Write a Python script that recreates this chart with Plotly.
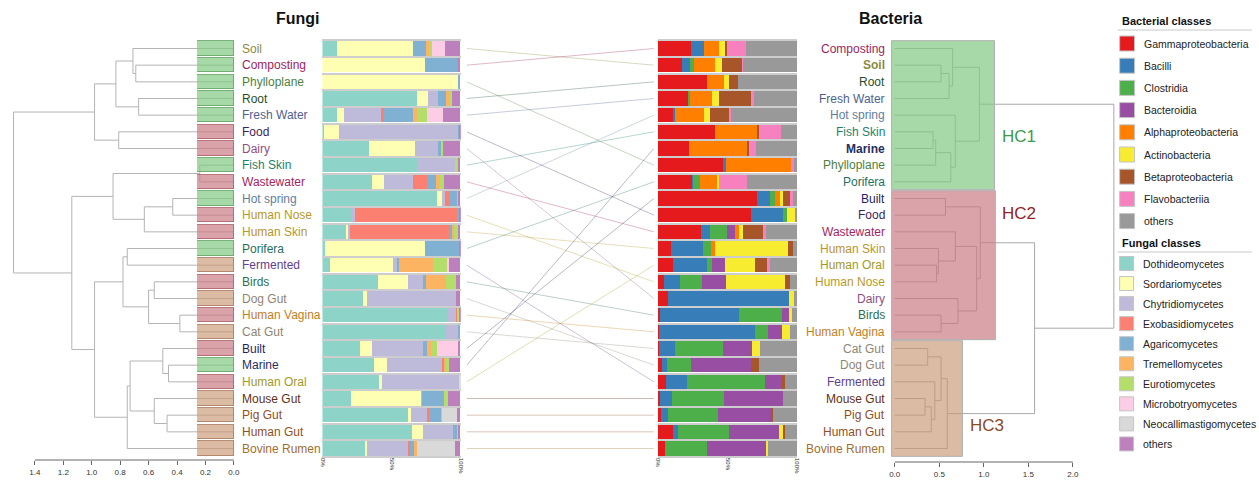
import plotly.graph_objects as go

W, H = 1259, 481

# ---------------- data ----------------
fungi_sites = ["Soil", "Composting", "Phylloplane", "Root", "Fresh Water", "Food", "Dairy",
               "Fish Skin", "Wastewater", "Hot spring", "Human Nose", "Human Skin", "Porifera",
               "Fermented", "Birds", "Dog Gut", "Human Vagina", "Cat Gut", "Built", "Marine",
               "Human Oral", "Mouse Gut", "Pig Gut", "Human Gut", "Bovine Rumen"]
bact_sites = ["Composting", "Soil", "Root", "Fresh Water", "Hot spring", "Fish Skin", "Marine",
              "Phylloplane", "Porifera", "Built", "Food", "Wastewater", "Human Skin", "Human Oral",
              "Human Nose", "Dairy", "Birds", "Human Vagina", "Cat Gut", "Dog Gut", "Fermented",
              "Mouse Gut", "Pig Gut", "Human Gut", "Bovine Rumen"]
# bacterial hierarchical cluster (HC1/HC2/HC3) of each site, in bacterial order
bact_cluster = [1, 1, 1, 1, 1, 1, 1, 1, 1,
                2, 2, 2, 2, 2, 2, 2, 2, 2,
                3, 3, 3, 3, 3, 3, 3]
cluster_names = ["HC1", "HC2", "HC3"]

fungal_classes = ["Dothideomycetes", "Sordariomycetes", "Chytridiomycetes", "Exobasidiomycetes",
                  "Agaricomycetes", "Tremellomycetes", "Eurotiomycetes", "Microbotryomycetes",
                  "Neocallimastigomycetes", "others"]
bacterial_classes = ["Gammaproteobacteria", "Bacilli", "Clostridia", "Bacteroidia",
                     "Alphaproteobacteria", "Actinobacteria", "Betaproteobacteria",
                     "Flavobacteriia", "others"]

# fungal relative abundance (%), fungi_sites order
f_doth = [10.8, 0, 0, 68.7, 11.2, 1.7, 34.0, 68.4, 36.4, 83.3, 21.5, 17.7, 2.4, 5.7, 40.7, 29.9, 91.4, 89.0, 27.5, 37.6, 41.9, 20.8, 62.2, 65.1, 31.6]
f_sord = [54.8, 74.6, 98.8, 8.1, 5.0, 10.8, 33.0, 0, 8.1, 3.6, 0, 1.2, 72.2, 45.5, 21.3, 2.4, 0, 0, 8.4, 9.6, 1.2, 51.0, 2.4, 7.9, 1.2]
f_chyt = [0, 0, 0, 6.7, 26.3, 86.1, 17.2, 28.0, 21.5, 1.7, 2.2, 1.0, 0, 2.9, 10.8, 64.8, 5.5, 9.6, 36.8, 40.2, 56.0, 0.5, 12.0, 22.0, 29.4]
f_exob = [0, 0, 0, 0, 2.4, 0, 0, 0, 10.0, 2.9, 74.4, 72.2, 0, 0, 0, 0, 1.0, 0, 0, 1.2, 0, 0, 0.7, 0, 1.2]
f_agar = [9.8, 23.9, 1.2, 6.2, 20.8, 0.7, 2.4, 0, 6.2, 6.5, 1.0, 2.4, 24.7, 1.9, 2.4, 0, 0, 1.4, 3.3, 0, 0, 15.8, 8.9, 2.9, 3.3]
f_trem = [1.9, 0, 0, 3.3, 3.3, 0, 0, 0, 3.3, 0, 0, 1.2, 0, 23.9, 14.4, 0, 0, 0, 2.9, 1.2, 0, 0, 0.7, 0, 1.9]
f_euro = [2.2, 0, 0, 1.2, 6.7, 0, 1.0, 2.2, 2.4, 1.0, 0, 2.4, 0, 10.5, 7.2, 0, 1.2, 0, 4.1, 1.7, 0, 3.3, 0, 1.0, 0]
f_micr = [9.6, 0, 0, 0, 12.0, 0, 0, 0, 0, 0, 0, 0, 0, 1.7, 0, 0, 0, 0, 15.3, 0, 0, 0, 0, 0, 0]
f_neoc = [0, 0, 0, 0, 0, 0, 0, 0, 0, 0, 0, 0, 0, 0, 0, 0, 0, 0, 0, 0, 0.9, 0, 10.8, 0, 27.5]
f_othr = [10.9, 1.5, 0, 5.8, 12.3, 0.7, 12.4, 1.4, 12.1, 1.0, 0.9, 1.9, 0.7, 7.9, 3.2, 2.9, 0.9, 0, 1.7, 8.5, 0, 8.6, 2.3, 1.1, 3.9]

# bacterial relative abundance (%), bact_sites order
b_gamma = [23.4, 17.5, 35.2, 21.5, 11.2, 40.9, 22.2, 47.1, 24.6, 70.8, 67.0, 30.6, 9.1, 10.8, 4.1, 7.2, 1.2, 0.7, 0.7, 2.6, 5.5, 1.2, 2.2, 10.8, 5.0]
b_bacil = [9.3, 5.7, 0, 0, 1.2, 0, 0, 1.4, 0.7, 9.3, 22.5, 6.9, 23.2, 24.4, 11.5, 86.6, 56.9, 68.9, 11.5, 4.1, 15.6, 9.1, 5.0, 3.8, 0]
b_clost = [0, 2.6, 0, 1.7, 0, 0, 0, 0, 4.5, 3.8, 3.3, 12.0, 6.0, 3.8, 16.3, 0, 31.1, 9.6, 34.7, 16.7, 56.0, 36.8, 35.6, 36.4, 30.4]
b_bactd = [0, 0, 0, 0, 0, 0, 0, 0, 0, 0, 0, 5.5, 0, 8.9, 16.7, 0, 4.8, 9.8, 20.8, 43.5, 12.2, 42.3, 38.8, 35.9, 42.8]
b_alpha = [10.8, 15.3, 12.0, 15.8, 20.6, 30.6, 42.1, 46.7, 13.2, 3.8, 0, 3.1, 2.4, 0, 0, 0, 0, 0, 0, 0, 0, 0, 0, 0, 0]
b_actin = [4.5, 4.8, 3.8, 4.5, 4.1, 0, 0, 0, 0.7, 1.9, 5.7, 3.1, 52.4, 22.0, 42.8, 3.6, 1.9, 5.5, 5.3, 0, 0, 0, 0, 2.9, 1.0]
b_beta = [1.7, 14.6, 6.5, 23.7, 13.9, 1.0, 0.7, 0, 0, 4.8, 0, 14.4, 3.8, 8.4, 3.1, 0, 0, 0, 0, 5.3, 1.7, 0, 1.0, 1.2, 0]
b_flavo = [13.2, 0.7, 0, 1.4, 1.4, 16.0, 5.5, 2.6, 19.9, 2.2, 0, 2.2, 0, 2.4, 0, 0, 0, 0, 0, 0, 0, 0, 0, 0, 0]
b_other = [37.1, 38.8, 42.5, 31.4, 47.6, 11.5, 29.5, 2.2, 36.4, 3.4, 1.5, 22.2, 3.1, 19.3, 5.5, 2.6, 4.1, 5.5, 27.0, 27.8, 9.0, 10.6, 17.4, 9.0, 20.8]

# dendrogram merges: (child a, child b, height); ids < 25 are rows, >= 25 earlier merges
fungi_linkage = [(1, 2, 0.69), (0, 25, 0.71), (3, 4, 0.67), (26, 27, 0.83), (5, 6, 0.81),
                 (28, 29, 0.98), (7, 8, 0.24), (9, 10, 0.43), (32, 11, 0.63), (31, 33, 0.85),
                 (12, 13, 0.75), (14, 15, 0.56), (16, 17, 0.38), (36, 37, 0.60), (35, 38, 0.78),
                 (19, 20, 0.46), (18, 40, 0.50), (22, 23, 0.47), (21, 42, 0.56), (41, 43, 0.73),
                 (44, 24, 0.75), (39, 45, 0.98), (34, 46, 1.14), (30, 47, 1.55)]
bact_linkage = [(1, 2, 0.52), (25, 3, 0.61), (0, 26, 0.65), (5, 6, 0.43), (28, 7, 0.46),
                (29, 8, 0.63), (4, 30, 0.68), (27, 31, 0.95), (9, 10, 0.57), (13, 14, 0.47),
                (12, 34, 0.49), (11, 35, 0.68), (16, 17, 0.52), (15, 37, 0.71), (36, 38, 0.92),
                (33, 39, 0.96), (18, 19, 0.37), (21, 22, 0.34), (42, 23, 0.41), (20, 43, 0.45),
                (41, 44, 0.52), (45, 24, 0.59), (40, 46, 1.57), (32, 47, 2.46)]

fungi_ticks = [0.0, 0.2, 0.4, 0.6, 0.8, 1.0, 1.2, 1.4]
bact_ticks = [0.0, 0.5, 1.0, 1.5, 2.0]
pct_ticks = [0, 50, 100]

# ---------------- styles ----------------
FONT = "Liberation Sans, Arial, Helvetica, sans-serif"
fungal_colors = ["#8dd3c7", "#ffffb3", "#bebada", "#fb8072", "#80b1d3", "#fdb462",
                 "#b3de69", "#fccde5", "#d9d9d9", "#bc80bd"]
bacterial_colors = ["#e41a1c", "#377eb8", "#4daf4a", "#984ea3", "#ff7f00", "#f7ec2f",
                    "#a65628", "#f781bf", "#999999"]
cluster_fill = ["rgba(130,200,130,0.70)", "rgba(200,120,128,0.68)", "rgba(200,150,115,0.65)"]
cluster_edge = ["rgba(105,170,105,0.9)", "rgba(175,105,112,0.9)", "rgba(175,130,100,0.9)"]
cluster_text = ["#3c9a4c", "#8e2424", "#8a4a22"]
label_colors = {
    "Soil": "#8a8a3c", "Composting": "#9c1f5e", "Phylloplane": "#4f7f3f", "Root": "#1f4f2a",
    "Fresh Water": "#4f5f8f", "Food": "#3c1f5f", "Dairy": "#8f4f7f", "Fish Skin": "#1f7f6f",
    "Wastewater": "#a31f5f", "Hot spring": "#5f809f", "Human Nose": "#b89a1f",
    "Human Skin": "#b8952f", "Porifera": "#1f6f5f", "Fermented": "#5f3f8f", "Birds": "#2f6f4f",
    "Dog Gut": "#8f8575", "Human Vagina": "#c4801f", "Cat Gut": "#8f8575", "Built": "#1f1f5f",
    "Marine": "#1f2f5f", "Human Oral": "#a39a1f", "Mouse Gut": "#5f2f14", "Pig Gut": "#8f4f1f",
    "Human Gut": "#8f4f1f", "Bovine Rumen": "#9f6f2f",
}
bold_right = {"Soil", "Marine"}


def hex_rgba(h, a):
    h = h.lstrip("#")
    return "rgba(%d,%d,%d,%.2f)" % (int(h[0:2], 16), int(h[2:4], 16), int(h[4:6], 16), a)


def px(x):
    return x / W


def py(y):
    return 1 - y / H


# row geometry
ROW0, PITCH = 48.5, 16.667
YT = -ROW0 / PITCH
YB = (H - ROW0) / PITCH
N = len(fungi_sites)


def dendro(linkage, n):
    pos = [float(i) for i in range(n)]
    hgt = [0.0] * n
    leaves = [{i} for i in range(n)]
    xs, ys = [], []
    for a, b, h in linkage:
        xs += [hgt[a], h, h, hgt[b], None]
        ys += [pos[a], pos[a], pos[b], pos[b], None]
        pos.append((pos[a] + pos[b]) / 2)
        hgt.append(h)
        leaves.append(leaves[a] | leaves[b])
    return xs, ys, hgt, leaves


fig = go.Figure()

# ---- left (fungal) dendrogram ----
fx, fy, _, _ = dendro(fungi_linkage, N)
fig.add_trace(go.Scatter(x=fx, y=fy, mode="lines", line=dict(color="#b4b4b4", width=1),
                         xaxis="x", yaxis="y", hoverinfo="skip", showlegend=False))

# ---- habitat (cluster) boxes next to fungal leaves ----
fclu = [bact_cluster[bact_sites.index(s)] for s in fungi_sites]
fig.add_trace(go.Bar(orientation="h", x=[1] * N, y=list(range(N)), width=0.86,
                     marker=dict(color=[cluster_fill[c - 1] for c in fclu],
                                 line=dict(color=[cluster_edge[c - 1] for c in fclu], width=1)),
                     xaxis="x2", yaxis="y2", hoverinfo="skip", showlegend=False))

# ---- fungal stacked bars ----
f_series = [f_doth, f_sord, f_chyt, f_exob, f_agar, f_trem, f_euro, f_micr, f_neoc, f_othr]
for name, vals, col in zip(fungal_classes, f_series, fungal_colors):
    fig.add_trace(go.Bar(orientation="h", x=vals, y=list(range(N)), width=0.86, name=name,
                         marker=dict(color=col, line=dict(width=0)),
                         xaxis="x3", yaxis="y3", showlegend=False))

# ---- connecting lines ----
for s in fungi_sites:
    i = fungi_sites.index(s)
    j = bact_sites.index(s)
    fig.add_trace(go.Scatter(x=[0, 1], y=[i, j], mode="lines",
                             line=dict(color=hex_rgba(label_colors[s], 0.32), width=1),
                             xaxis="x4", yaxis="y4", hoverinfo="skip", showlegend=False))

# ---- bacterial stacked bars ----
b_series = [b_gamma, b_bacil, b_clost, b_bactd, b_alpha, b_actin, b_beta, b_flavo, b_other]
for name, vals, col in zip(bacterial_classes, b_series, bacterial_colors):
    fig.add_trace(go.Bar(orientation="h", x=vals, y=list(range(N)), width=0.86, name=name,
                         marker=dict(color=col, line=dict(width=0)),
                         xaxis="x5", yaxis="y5", showlegend=False))

# ---- right (bacterial) dendrogram ----
bx, by, bh, bleaves = dendro(bact_linkage, N)
fig.add_trace(go.Scatter(x=bx, y=by, mode="lines", line=dict(color="#a8a8a8", width=1),
                         xaxis="x6", yaxis="y6", hoverinfo="skip", showlegend=False))

shapes = []
annotations = []

# HC boxes
for c in (1, 2, 3):
    rows = {i for i, k in enumerate(bact_cluster) if k == c}
    top = max(h for h, lv in zip(bh, bleaves) if lv <= rows)
    shapes.append(dict(type="rect", xref="x6", yref="y6", x0=-0.035, x1=top + 0.17,
                       y0=min(rows) - 0.47, y1=max(rows) + 0.47, layer="above",
                       fillcolor=cluster_fill[c - 1], line=dict(color="#b0b0b0", width=1)))
hc_label_pos = [(1.18, 5.3), (1.18, 9.9), (0.82, 22.6)]
for c, (lx, ly) in enumerate(hc_label_pos):
    annotations.append(dict(text=cluster_names[c], xref="x6", yref="y6", x=lx, y=ly,
                            xanchor="left", yanchor="middle", showarrow=False,
                            font=dict(family=FONT, size=17, color=cluster_text[c])))

# dendrogram axis lines
pL = py(460)
pR = py(462)
shapes.append(dict(type="line", xref="x", yref="paper", x0=0, x1=max(fungi_ticks), y0=pL, y1=pL,
                   line=dict(color="#666", width=1)))
shapes.append(dict(type="line", xref="x6", yref="paper", x0=0, x1=max(bact_ticks), y0=pR, y1=pR,
                   line=dict(color="#666", width=1)))

# site labels
for i, s in enumerate(fungi_sites):
    annotations.append(dict(text=s, xref="paper", yref="y", x=px(238), y=i, xanchor="left",
                            yanchor="middle", showarrow=False,
                            font=dict(family=FONT, size=12, color=label_colors[s])))
for i, s in enumerate(bact_sites):
    t = "<b>%s</b>" % s if s in bold_right else s
    annotations.append(dict(text=t, xref="paper", yref="y", x=px(888), y=i, xanchor="right",
                            yanchor="middle", showarrow=False,
                            font=dict(family=FONT, size=12, color=label_colors[s])))

# titles
annotations.append(dict(text="<b>Fungi</b>", xref="paper", yref="paper", x=px(296), y=py(18),
                        xanchor="center", yanchor="middle", showarrow=False,
                        font=dict(family=FONT, size=16, color="#111")))
annotations.append(dict(text="<b>Bacteria</b>", xref="paper", yref="paper", x=px(892), y=py(18),
                        xanchor="center", yanchor="middle", showarrow=False,
                        font=dict(family=FONT, size=16, color="#111")))


# ---- manual legends ----
def legend_block(title, names, colors, ytitle, ysep, y0, pitch, sw):
    annotations.append(dict(text="<b>%s</b>" % title, xref="paper", yref="paper",
                            x=px(1122), y=py(ytitle), xanchor="left", yanchor="middle",
                            showarrow=False, font=dict(family=FONT, size=11, color="#111")))
    shapes.append(dict(type="line", xref="paper", yref="paper", x0=px(1120), x1=px(1255),
                       y0=py(ysep), y1=py(ysep), line=dict(color="#c8c8c8", width=1)))
    for k, (nm, col) in enumerate(zip(names, colors)):
        cy = y0 + k * pitch
        shapes.append(dict(type="rect", xref="paper", yref="paper", x0=px(1122), x1=px(1122 + sw),
                           y0=py(cy - sw / 2), y1=py(cy + sw / 2), fillcolor=col,
                           line=dict(color="#c4c4c4", width=1)))
        annotations.append(dict(text=nm, xref="paper", yref="paper", x=px(1122 + sw + 7),
                                y=py(cy), xanchor="left", yanchor="middle", showarrow=False,
                                font=dict(family=FONT, size=10.5, color="#222")))


legend_block("Bacterial classes", bacterial_classes, bacterial_colors, 21, 30, 43.5, 22.2, 15)
legend_block("Fungal classes", fungal_classes, fungal_colors, 243, 252, 263.5, 20.05, 14)

# ---------------- axes ----------------
def yax(anchor, grid=False):
    d = dict(range=[YB, YT], domain=[0, 1], anchor=anchor, zeroline=False, showline=False,
             showticklabels=False, ticks="", fixedrange=True)
    if grid:
        d.update(showgrid=True, gridcolor="#cdcdcd", gridwidth=1.5,
                 tickmode="array", tickvals=[i - 0.5 for i in range(N + 1)])
    else:
        d.update(showgrid=False, visible=False)
    return d


pct_axis = dict(range=[0, 100], tickmode="array", tickvals=pct_ticks,
                ticktext=["%d%%" % v for v in pct_ticks], tickangle=90, ticks="",
                tickfont=dict(family=FONT, size=6, color="#333"), showgrid=False,
                zeroline=False, showline=False, anchor="free", position=py(457))

L_SCALE = 142.86
R_SCALE = 89.5
layout = dict(
    width=W, height=H, margin=dict(l=0, r=0, t=0, b=0), barmode="stack", bargap=0,
    plot_bgcolor="rgba(0,0,0,0)", paper_bgcolor="white", showlegend=False,
    xaxis=dict(domain=[0, px(244)], range=[232 / L_SCALE, -12 / L_SCALE], anchor="free",
               position=pL, tickmode="array", tickvals=fungi_ticks,
               ticktext=["%.1f" % v for v in fungi_ticks],
               ticks="outside", ticklen=4, tickcolor="#666",
               tickfont=dict(family=FONT, size=8, color="#333"),
               showgrid=False, zeroline=False, showline=False),
    xaxis2=dict(domain=[px(195), px(232)], range=[0, 1], anchor="y2", visible=False),
    xaxis3=dict(domain=[px(321), px(460)], **pct_axis),
    xaxis4=dict(domain=[px(466), px(654)], range=[0, 1], anchor="y4", visible=False),
    xaxis5=dict(domain=[px(658), px(798)], **pct_axis),
    xaxis6=dict(domain=[px(890), 1], range=[-6 / R_SCALE, (W - 896) / R_SCALE], anchor="free",
                position=pR, tickmode="array", tickvals=bact_ticks,
                ticktext=["%.1f" % v for v in bact_ticks], ticks="outside", ticklen=4,
                tickcolor="#666", tickfont=dict(family=FONT, size=8, color="#333"),
                showgrid=False, zeroline=False, showline=False),
    yaxis=yax("x"), yaxis2=yax("x2"), yaxis3=yax("x3", grid=True), yaxis4=yax("x4"),
    yaxis5=yax("x5", grid=True), yaxis6=yax("x6"),
    shapes=shapes, annotations=annotations,
    font=dict(family=FONT),
)
fig.update_layout(**layout)
fig.write_html("out.html", config={"displayModeBar": False},
               post_script="document.body.style.margin='0';document.body.style.overflow='hidden';")
